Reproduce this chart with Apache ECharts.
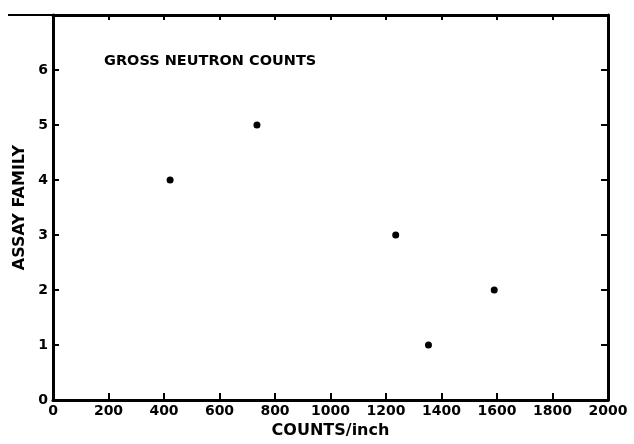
<!DOCTYPE html>
<html>
<head>
<meta charset="utf-8">
<script src="https://cdn.jsdelivr.net/npm/echarts@6/dist/echarts.min.js"></script>
<style>
  html, body { margin: 0; padding: 0; background: #fff; }
  #chart { width: 634px; height: 444px; }
</style>
</head>
<body>
<div id="chart"></div>
<script>
// counts per inch vs assay family
var counts = [1353, 1590, 1235, 422, 735];
var families = [1, 2, 3, 4, 5];
var xTicks = [0, 200, 400, 600, 800, 1000, 1200, 1400, 1600, 1800, 2000];
var yTicks = [0, 1, 2, 3, 4, 5, 6];

var points = [];
for (var i = 0; i < counts.length; i++) {
  points.push([counts[i], families[i]]);
}

var font = "DejaVu Sans";
var ink = "#000";

var chart = echarts.init(document.getElementById("chart"));
chart.setOption({
  animation: false,
  backgroundColor: "#fff",
  title: {
    text: "GROSS NEUTRON COUNTS",
    left: 99,
    top: 49,
    textStyle: { fontFamily: font, fontSize: 14.5, fontWeight: "bold", color: ink }
  },
  grid: { left: 53, right: 26, top: 15, bottom: 41 },
  xAxis: [
    {
      type: "value",
      min: 0,
      max: 2000,
      interval: 200,
      name: "COUNTS/inch",
      nameLocation: "middle",
      nameGap: 21,
      nameTextStyle: { fontFamily: font, fontSize: 16, fontWeight: "bold", color: ink },
      axisLine: { onZero: false, lineStyle: { color: ink, width: 3 } },
      axisTick: { inside: true, length: 7, lineStyle: { color: ink, width: 2 } },
      axisLabel: {
        margin: 4,
        fontFamily: font,
        fontSize: 14,
        fontWeight: "bold",
        color: ink,
        formatter: function (v) { return xTicks.indexOf(v) >= 0 ? String(v) : ""; }
      },
      splitLine: { show: false }
    },
    {
      type: "value",
      position: "top",
      min: 0,
      max: 2000,
      interval: 200,
      axisLine: { onZero: false, lineStyle: { color: ink, width: 3 } },
      axisTick: { inside: true, length: 5, lineStyle: { color: ink, width: 2 } },
      axisLabel: { show: false },
      splitLine: { show: false }
    }
  ],
  yAxis: [
    {
      type: "value",
      min: 0,
      max: 7,
      interval: 1,
      name: "ASSAY FAMILY",
      nameLocation: "middle",
      nameGap: 20,
      nameTextStyle: { fontFamily: font, fontSize: 16, fontWeight: "bold", color: ink },
      axisLine: { onZero: false, lineStyle: { color: ink, width: 3 } },
      axisTick: { inside: true, length: 6, lineStyle: { color: ink, width: 2 } },
      axisLabel: {
        margin: 5,
        fontFamily: font,
        fontSize: 14,
        fontWeight: "bold",
        color: ink,
        formatter: function (v) { return yTicks.indexOf(v) >= 0 ? String(v) : ""; }
      },
      splitLine: { show: false }
    },
    {
      type: "value",
      position: "right",
      min: 0,
      max: 7,
      interval: 1,
      axisLine: { onZero: false, lineStyle: { color: ink, width: 3 } },
      axisTick: { inside: true, length: 7, lineStyle: { color: ink, width: 2 } },
      axisLabel: { show: false },
      splitLine: { show: false }
    }
  ],
  // stray bit of the top border running past the frame in the scan
  graphic: [
    {
      type: "line",
      shape: { x1: 8, y1: 15, x2: 53, y2: 15 },
      style: { stroke: ink, lineWidth: 2 }
    }
  ],
  series: [
    {
      type: "scatter",
      data: points,
      symbol: "circle",
      symbolSize: 7,
      itemStyle: { color: ink, opacity: 1 }
    }
  ]
});
</script>
</body>
</html>
